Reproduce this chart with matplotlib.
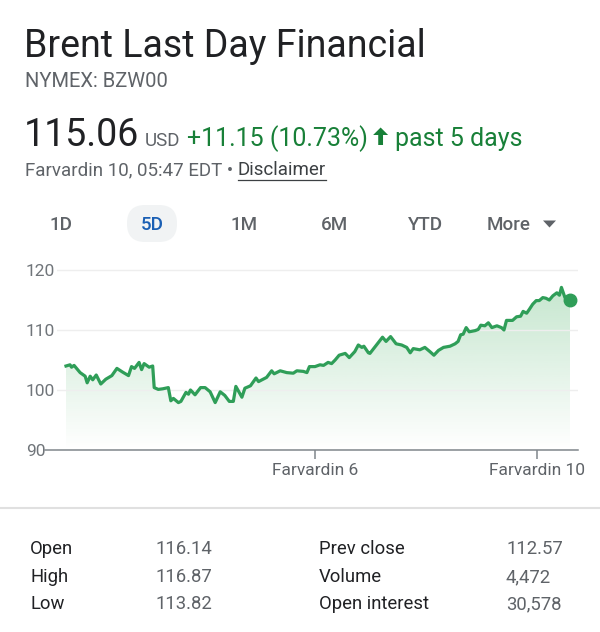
import matplotlib
matplotlib.use('Agg')
import matplotlib.pyplot as plt
import numpy as np
from matplotlib.patches import FancyBboxPatch, Polygon
from matplotlib.transforms import IdentityTransform
from matplotlib.lines import Line2D

# ---------------- data ----------------
# position within the 5-day window (0 = first sample, 100 = last sample)
times = [0.0, 0.8, 1.1, 1.6, 2.8, 3.8, 4.2, 4.8, 5.3, 6.0, 6.9, 7.9, 9.1, 10.1, 11.2,
         12.4, 13.0, 13.6, 14.5, 15.0, 15.5, 16.5, 17.2, 17.5, 18.3, 19.2, 20.3, 20.8,
         21.3, 22.3, 22.8, 23.8, 24.3, 24.7, 25.6, 26.7, 27.6, 28.6, 29.6, 30.6, 31.5,
         32.4, 33.2, 33.7, 34.9, 35.5, 36.6, 37.7, 38.2, 39.8, 40.8, 41.3, 42.5, 43.8,
         45.1, 45.8, 47.1, 47.8, 48.3, 49.4, 50.4, 51.1, 52.0, 52.7, 53.4, 54.2, 55.4,
         56.2, 57.3, 58.0, 58.7, 59.1, 60.0, 60.3, 61.6, 62.8, 63.5, 64.4, 65.5, 66.6,
         67.6, 68.3, 68.9, 70.2, 71.2, 72.2, 73.0, 73.9, 74.9, 76.2, 77.2, 77.8, 78.3,
         78.8, 79.4, 80.0, 81.2, 81.8, 82.3, 83.1, 83.8, 84.5, 85.5, 86.4, 86.9, 87.4,
         88.6, 89.4, 90.2, 90.7, 91.4, 91.9, 92.6, 93.3, 93.9, 94.6, 95.2, 95.9, 96.6,
         97.4, 97.9, 98.3, 99.0, 100.0]
prices = [104.0, 104.2, 103.8, 104.1, 102.9, 102.3, 101.2, 102.3, 101.7, 102.5, 101.0,
          101.8, 102.4, 103.6, 103.0, 102.4, 103.9, 103.6, 104.6, 103.4, 104.4, 103.8,
          104.0, 100.4, 100.1, 100.2, 100.4, 98.2, 98.6, 97.9, 98.1, 99.6, 99.3, 100.0,
          99.2, 100.4, 100.4, 99.7, 97.9, 99.7, 99.1, 98.1, 98.1, 100.6, 98.8, 100.3,
          100.7, 102.0, 101.4, 102.1, 103.2, 102.7, 103.2, 102.9, 102.8, 103.2, 103.1,
          102.9, 103.9, 103.9, 104.2, 104.1, 104.6, 104.4, 105.0, 105.8, 106.1, 105.4,
          106.4, 107.5, 107.1, 107.3, 106.2, 106.1, 107.5, 108.8, 108.1, 108.9, 107.7,
          107.5, 107.1, 106.2, 106.9, 106.7, 107.1, 106.4, 105.8, 106.6, 107.1, 107.3,
          107.7, 108.1, 109.2, 109.3, 110.4, 109.7, 109.9, 110.1, 110.8, 110.7, 111.2,
          110.4, 110.7, 110.4, 110.0, 111.6, 111.6, 112.2, 112.3, 113.1, 112.8, 113.4,
          114.3, 114.9, 114.9, 115.4, 115.3, 115.0, 115.7, 116.2, 115.8, 117.1, 115.4,
          115.06]
x_tick_pos = [49.4, 93.45]
x_tick_labels = ["Farvardin 6", "Farvardin 10"]
y_ticks = [90, 100, 110, 120]

title = "Brent Last Day Financial"
ticker = "NYMEX: BZW00"
price_text = "115.06"
currency = "USD"
change_text = "+11.15 (10.73%)"
period_text = "past 5 days"
timestamp = "Farvardin 10, 05:47 EDT \u2022 "
disclaimer = "Disclaimer"
tabs = ["1D", "5D", "1M", "6M", "YTD", "More"]
active_tab = "5D"
stat_labels_left = ["Open", "High", "Low"]
stat_values_left = ["116.14", "116.87", "113.82"]
stat_labels_right = ["Prev close", "Volume", "Open interest"]
stat_values_right = ["112.57", "4,472", "30,578"]

# ---------------- styling ----------------
W, H = 600, 632
plt.rcParams['font.family'] = ['Roboto', 'DejaVu Sans']
DARK = '#202124'
GRAY = '#5f6368'
AXGRAY = '#70757a'
GREEN_TXT = '#188038'
GREEN = '#2f9e58'

fig = plt.figure(figsize=(W / 100, H / 100), dpi=100)
fig.patch.set_facecolor('white')
renderer = fig.canvas.get_renderer()


def fx(x):
    return x / W


def fy(y):
    return 1 - y / H


def put(x, y, s, **kw):
    kw.setdefault('va', 'baseline')
    kw.setdefault('ha', 'left')
    return fig.text(fx(x), fy(y), s, **kw)


def right_of(t):
    return t.get_window_extent(renderer).x1


def add_patch(p):
    fig.patches.append(p)
    p.set_figure(fig)


# header
put(24, 57, title, fontsize=27, color=DARK)
put(25, 87, ticker, fontsize=14.5, color=GRAY)
t = put(24, 146, price_text, fontsize=27, color=DARK)
t = put(right_of(t) + 6, 146, currency, fontsize=13.5, color=GRAY)
t = put(right_of(t) + 6, 146, change_text, fontsize=18, color=GREEN_TXT)
cx = right_of(t) + 13
arrow = Polygon([[cx, H - 127.5], [cx + 7.5, H - 135], [cx + 2.4, H - 135],
                 [cx + 2.4, H - 145], [cx - 2.4, H - 145], [cx - 2.4, H - 135],
                 [cx - 7.5, H - 135]], closed=True, transform=IdentityTransform(),
                color=GREEN_TXT, lw=0)
add_patch(arrow)
put(cx + 14, 146, period_text, fontsize=18, color=GREEN_TXT)

t = put(25, 175, timestamp, fontsize=13.5, color=GRAY)
xd = right_of(t)
t2 = put(xd, 175, disclaimer, fontsize=13.5, color='#3c4043')
bb = t2.get_window_extent(renderer)
fig.lines.append(Line2D([bb.x0, bb.x1], [H - 179.5, H - 179.5], transform=IdentityTransform(),
                        color='#3c4043', lw=0.9))

# tabs
tab_centers = [61, 152, 244, 335, 426, 509]
for name, c in zip(tabs, tab_centers):
    if name == active_tab:
        pill = FancyBboxPatch((c - 25, H - 242), 50, 37, boxstyle="round,pad=0,rounding_size=18",
                              transform=IdentityTransform(), facecolor='#f1f3f4', edgecolor='none')
        add_patch(pill)
        put(c, 230, name, fontsize=13.5, color='#1a5fb4', ha='center', fontweight='medium')
    else:
        put(c, 230, name, fontsize=13.5, color=GRAY, ha='center', fontweight='medium')
tri = Polygon([[543, H - 220.5], [556, H - 220.5], [549.5, H - 227.5]], closed=True,
              transform=IdentityTransform(), color=GRAY, lw=0)
add_patch(tri)

# ---------------- chart ----------------
left_px, right_px, top_px, bot_px = 57, 578, 264, 450
ax = fig.add_axes([fx(left_px), fy(bot_px), (right_px - left_px) / W, (bot_px - top_px) / H])
ymin, ymax = 90, 121

fb = ax.fill_between(times, prices, ymin, color='none', lw=0)
grad = np.zeros((256, 1, 4))
rgb = matplotlib.colors.to_rgb('#34a853')
grad[:, 0, 0:3] = rgb
grad[:, 0, 3] = np.linspace(0.0, 0.28, 256)
img = ax.imshow(grad, extent=[times[0], times[-1], ymin, max(prices)], origin='lower',
                aspect='auto', interpolation='bilinear', zorder=1)
img.set_clip_path(fb.get_paths()[0], transform=ax.transData)

ax.plot(times, prices, color=GREEN, lw=2.3, solid_joinstyle='round', zorder=3)
ax.plot([times[-1]], [prices[-1]], 'o', color=GREEN, ms=9, zorder=4)

x_left = (57 - 66) / 5.04
x_right = (578 - 66) / 5.04
ax.set_xlim(x_left, x_right)
ax.set_ylim(ymin, ymax)
for s in ax.spines.values():
    s.set_visible(False)
ax.set_yticks(y_ticks)
ax.set_axisbelow(False)
ax.yaxis.grid(True, color='#eeeeee', lw=1, zorder=2)
for gl in ax.get_ygridlines():
    gl.set_zorder(2)
ax.tick_params(axis='y', length=0, pad=22.3, labelsize=12.5, labelcolor=AXGRAY)
for lab in ax.get_yticklabels():
    lab.set_ha('left')
ax.set_xticks(x_tick_pos, x_tick_labels)
ax.tick_params(axis='x', length=6.5, width=1.1, color='#80868b', pad=3,
               labelsize=12.5, labelcolor=GRAY)
ax.add_line(Line2D([-(left_px - 45) / (right_px - left_px), 1], [0, 0], transform=ax.transAxes,
                   color='#80868b', lw=1.1, clip_on=False, zorder=5))

# separator
fig.lines.append(Line2D([0, W], [H - 508, H - 508], transform=IdentityTransform(),
                        color='#e0e0e0', lw=1.5))

# ---------------- stats table ----------------
row_base = [554, 582, 609]
for i in range(3):
    put(30, row_base[i], stat_labels_left[i], fontsize=13.3, color=DARK)
    put(155, row_base[i], stat_values_left[i], fontsize=13.3, color=GRAY)
    put(319, row_base[i], stat_labels_right[i], fontsize=13.3, color=DARK)
    put(506, row_base[i], stat_values_right[i], fontsize=13.3, color=GRAY)

fig.savefig('out.png', dpi=100, facecolor='white')
